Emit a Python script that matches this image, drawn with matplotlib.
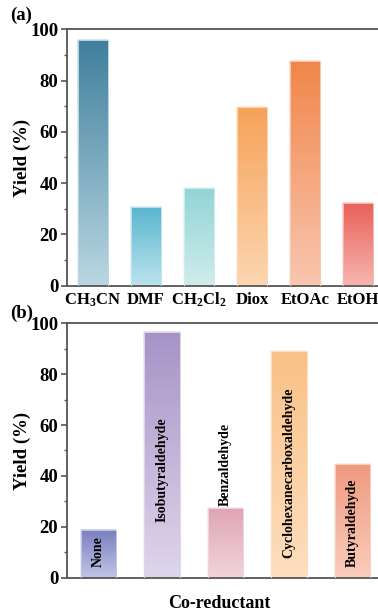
import numpy as np
import matplotlib
matplotlib.use("Agg")
import matplotlib.pyplot as plt
from matplotlib.colors import to_rgb
from matplotlib.ticker import MultipleLocator

plt.rcParams['font.family'] = 'Liberation Serif'
plt.rcParams['font.weight'] = 'bold'
plt.rcParams['mathtext.fontset'] = 'custom'
plt.rcParams['mathtext.rm'] = 'Liberation Serif:bold'
plt.rcParams['mathtext.it'] = 'Liberation Serif:bold'
plt.rcParams['mathtext.bf'] = 'Liberation Serif:bold'

# (a) solvent screening
solvents = ['CH$_3$CN', 'DMF', 'CH$_2$Cl$_2$', 'Diox', 'EtOAc', 'EtOH']
solvent_yield = [95.7, 30.7, 38.2, 69.6, 87.5, 32.1]
solvent_top = ['#3f7f9c', '#5ab6cf', '#92d4d5', '#f6a258', '#f0864a', '#e8625a']
solvent_bottom = ['#bad7e2', '#bde4ee', '#d0ecec', '#fcd6b2', '#f9c6b0', '#f6b6b1']

# (b) co-reductant screening
reductants = ['None', 'Isobutyraldehyde', 'Benzaldehyde',
              'Cyclohexanecarboxaldehyde', 'Butyraldehyde']
reductant_yield = [18.9, 96.7, 27.4, 89.2, 44.7]
reductant_top = ['#7a80c0', '#a792c6', '#dfa5b7', '#f8c187', '#ef9a7e']
reductant_bottom = ['#c2c6e6', '#ded6eb', '#f1d4dc', '#fddebf', '#f9cdbd']
label_y = [4.3, 22.0, 28.0, 7.7, 4.3]

SPINE = '#555555'
N_SLICES = 80


def gradient_bars(ax, values, tops, bottoms, width):
    x = np.arange(len(values))
    frac = np.linspace(0, 1, N_SLICES + 1)
    for xi, v, top, bot in zip(x, values, tops, bottoms):
        c0, c1 = np.array(to_rgb(bot)), np.array(to_rgb(top))
        # stack thin slices to fake a vertical gradient
        bases = frac[:-1] * v
        heights = np.diff(frac) * v
        mids = (frac[:-1] + frac[1:]) / 2
        cols = [tuple(c0 + (c1 - c0) * m) for m in mids]
        ax.bar(np.full(N_SLICES, xi), heights, bottom=bases, width=width,
               color=cols, edgecolor=cols, linewidth=0.3, zorder=2)
        ax.bar(xi, v, width=width, facecolor='none', edgecolor=bot,
               linewidth=0.7, zorder=3)
    ax.set_xlim(-0.5, len(values) - 0.5)
    return x


def style_axis(ax):
    ax.set_ylim(0, 100)
    ax.yaxis.set_major_locator(MultipleLocator(20))
    ax.yaxis.set_minor_locator(MultipleLocator(10))
    for s in ax.spines.values():
        s.set_color(SPINE)
        s.set_linewidth(1.3)
    ax.tick_params(axis='y', which='major', length=4, width=1.2, color=SPINE,
                   labelsize=13.5, pad=2)
    ax.tick_params(axis='y', which='minor', length=2.5, width=1, color=SPINE)
    ax.tick_params(axis='x', length=0, labelsize=12)
    ax.set_ylabel('Yield (%)', fontsize=13.5, fontweight='bold', labelpad=-1)


fig = plt.figure(figsize=(3.78, 6.12), dpi=100)

ax1 = fig.add_axes([0.176, 0.5332, 0.841, 0.419])
x1 = gradient_bars(ax1, solvent_yield, solvent_top, solvent_bottom, 0.57)
style_axis(ax1)
ax1.set_xticks(x1)
ax1.set_xticklabels(solvents)
ax1.tick_params(axis='x', pad=13.5)
for lab in ax1.get_xticklabels():
    lab.set_verticalalignment('baseline')
fig.text(0.026, 0.975, '(a)', fontsize=13.5, fontweight='bold', va='center')

ax2 = fig.add_axes([0.176, 0.0561, 0.841, 0.4157])
x2 = gradient_bars(ax2, reductant_yield, reductant_top, reductant_bottom, 0.56)
style_axis(ax2)
ax2.set_xticks([])
for xi, name, ly in zip(x2, reductants, label_y):
    ax2.text(xi, ly, name, rotation=90, ha='center', va='bottom',
             fontsize=10, fontweight='bold', color='black', zorder=4)
fig.text(0.176 + 0.841 / 2 - 0.017, 1 - 604 / 612, 'Co-reductant',
         fontsize=13, fontweight='bold', ha='center', va='center')
fig.text(0.026, 0.488, '(b)', fontsize=13.5, fontweight='bold', va='center')

fig.savefig('out.png', dpi=100)
